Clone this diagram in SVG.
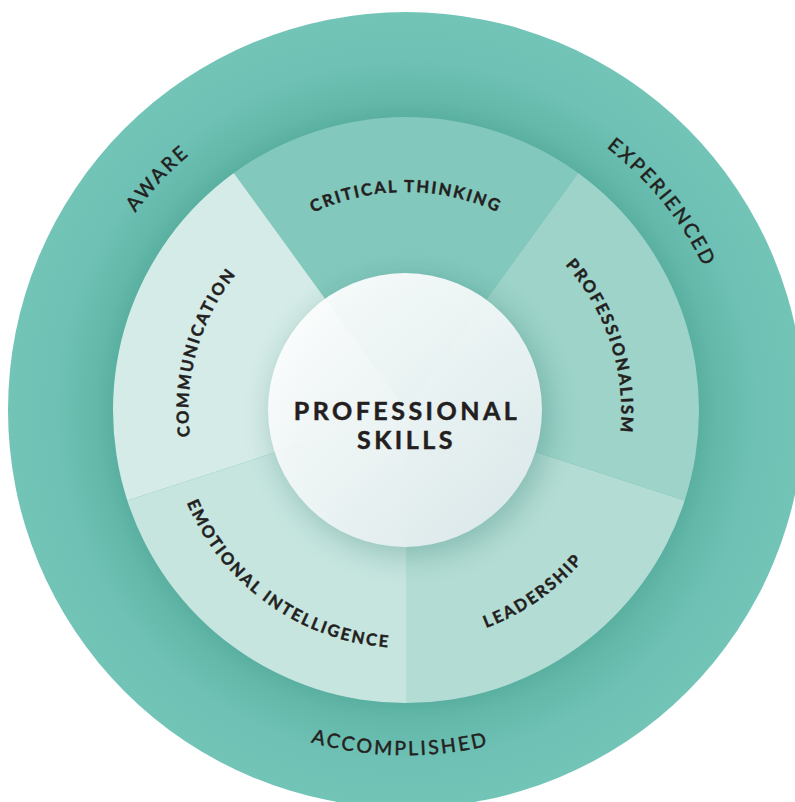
<svg xmlns="http://www.w3.org/2000/svg" xmlns:xlink="http://www.w3.org/1999/xlink" width="795" height="802" viewBox="0 0 795 802">
  <style>
    .seg-label { font-family: Lato, "Noto Sans", "Liberation Sans", sans-serif; font-weight: 700; font-size: 16.5px; letter-spacing: 2.1px; fill: #231f20; stroke: #231f20; stroke-width: 0.45px; }
    .ring-label { font-family: Lato, "Noto Sans", "Liberation Sans", sans-serif; font-weight: 400; font-size: 19.5px; letter-spacing: 2.5px; fill: #231f20; stroke: #231f20; stroke-width: 0.5px; }
    .center-label { font-family: Lato, "Noto Sans", "Liberation Sans", sans-serif; font-weight: 700; font-size: 25px; letter-spacing: 3.5px; fill: #231f20; stroke: #231f20; stroke-width: 0.5px; }
  </style>
  <defs>
    <radialGradient id="ringGrad" gradientUnits="userSpaceOnUse" cx="406" cy="410" r="398">
      <stop offset="0.72" stop-color="#56ac9d"/>
      <stop offset="0.78" stop-color="#63b8aa"/>
      <stop offset="0.88" stop-color="#6ec1b4"/>
      <stop offset="1" stop-color="#72c4b7"/>
    </radialGradient>
    <linearGradient id="centerGrad" x1="0.15" y1="0.1" x2="0.85" y2="0.9">
      <stop offset="0" stop-color="#ffffff"/>
      <stop offset="0.55" stop-color="#f1f6f7"/>
      <stop offset="1" stop-color="#e2ecee"/>
    </linearGradient>
    <filter id="blur" x="-50%" y="-50%" width="200%" height="200%">
      <feGaussianBlur stdDeviation="14"/>
    </filter>
    <path id="pCritical" d="M188,410 A218,218 0 0 1 624,410"/>
    <path id="pComm" d="M345.6,620.5 A219,219 0 0 1 466.4,199.5"/>
    <path id="pProf" d="M338.6,202.7 A218,218 0 0 1 473.4,617.3"/>
    <path id="pLead" d="M211.9,545.9 A237,237 0 0 0 600.1,274.1"/>
    <path id="pEmo" d="M212.2,271.8 A238,238 0 0 0 599.8,548.2"/>
    <path id="pAware" d="M177.5,655 A335,335 0 0 1 634.5,165"/>
    <path id="pExp" d="M194.6,148.9 A336,336 0 0 1 617.4,671.1"/>
    <path id="pAcc" d="M55.1,403.9 A351,351 0 0 0 756.9,416.1"/>
  </defs>

  <rect width="795" height="802" fill="#ffffff"/>

  <g id="outer-ring">
    <circle cx="406" cy="410" r="398" fill="url(#ringGrad)"/>
    <text class="ring-label"><textPath xlink:href="#pAware" href="#pAware" startOffset="50%" text-anchor="middle">AWARE</textPath></text>
    <text class="ring-label"><textPath xlink:href="#pExp" href="#pExp" startOffset="50%" text-anchor="middle">EXPERIENCED</textPath></text>
    <text class="ring-label"><textPath xlink:href="#pAcc" href="#pAcc" startOffset="50%" text-anchor="middle">ACCOMPLISHED</textPath></text>
  </g>

  <g id="connectors"></g>

  <g id="critical-thinking">
    <path d="M406,410 L233.8,173 A293,293 0 0 1 578.2,173 Z" fill="#83c8bc"/>
    <text class="seg-label"><textPath xlink:href="#pCritical" href="#pCritical" startOffset="50%" text-anchor="middle">CRITICAL THINKING</textPath></text>
  </g>
  <g id="professionalism">
    <path d="M406,410 L578.2,173 A293,293 0 0 1 684.7,500.5 Z" fill="#9dd3c9"/>
    <text class="seg-label"><textPath xlink:href="#pProf" href="#pProf" startOffset="50%" text-anchor="middle">PROFESSIONALISM</textPath></text>
  </g>
  <g id="leadership">
    <path d="M406,410 L684.7,500.5 A293,293 0 0 1 406,703 Z" fill="#b3dcd4"/>
    <text class="seg-label"><textPath xlink:href="#pLead" href="#pLead" startOffset="50%" text-anchor="middle">LEADERSHIP</textPath></text>
  </g>
  <g id="emotional-intelligence">
    <path d="M406,410 L406,703 A293,293 0 0 1 127.3,500.5 Z" fill="#c6e5df"/>
    <text class="seg-label"><textPath xlink:href="#pEmo" href="#pEmo" startOffset="50%" text-anchor="middle">EMOTIONAL INTELLIGENCE</textPath></text>
  </g>
  <g id="communication">
    <path d="M406,410 L127.3,500.5 A293,293 0 0 1 233.8,173 Z" fill="#d5ebe7"/>
    <text class="seg-label"><textPath xlink:href="#pComm" href="#pComm" startOffset="50%" text-anchor="middle">COMMUNICATION</textPath></text>
  </g>

  <g id="professional-skills">
    <circle cx="411" cy="417" r="140" fill="#1f6f63" opacity="0.28" filter="url(#blur)"/>
    <circle cx="405" cy="410" r="137" fill="url(#centerGrad)" fill-opacity="0.93"/>
    <text class="center-label" x="407" y="420" text-anchor="middle">PROFESSIONAL</text>
    <text class="center-label" x="406.5" y="449" text-anchor="middle">SKILLS</text>
  </g>
</svg>
